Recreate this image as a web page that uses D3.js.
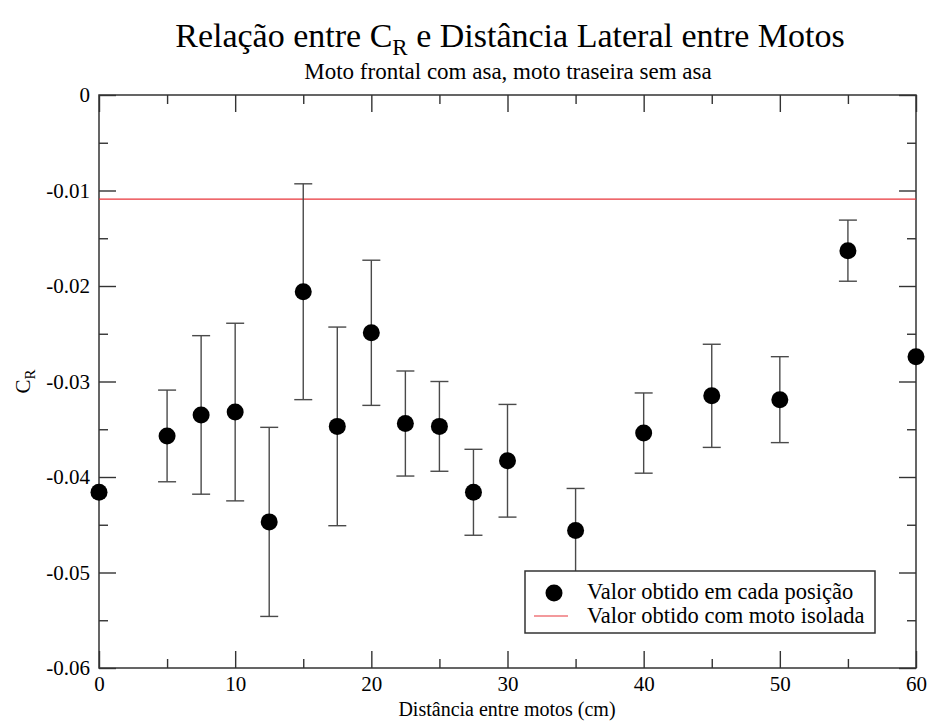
<!DOCTYPE html>
<html>
<head>
<meta charset="utf-8">
<script src="https://cdn.jsdelivr.net/npm/d3@7"></script>
<style>
  body { margin: 0; background: #fff; }
  svg { display: block; }
  text { font-family: "Liberation Serif", "Times New Roman", serif; fill: #000; }
</style>
</head>
<body>
<svg id="chart" width="930" height="724"></svg>
<script>
// Lateral distance between motorcycles (cm)
const distances = [0, 5, 7.5, 10, 12.5, 15, 17.5, 20, 22.5, 25, 27.5, 30, 35, 40, 45, 50, 55, 60];
// Measured C_R at each position
const crValues = [-0.0416, -0.0357, -0.0335, -0.0332, -0.0447, -0.0206, -0.0347, -0.0249, -0.0344,
                  -0.0347, -0.0416, -0.0383, -0.0456, -0.0354, -0.0315, -0.0319, -0.0163, -0.0274];
// Half-width of each error bar
const crErrors = [0, 0.0048, 0.0083, 0.0093, 0.0099, 0.0113, 0.0104, 0.0076, 0.0055,
                  0.0047, 0.0045, 0.0059, 0.0044, 0.0042, 0.0054, 0.0045, 0.0032, 0];
// C_R of the isolated motorcycle
const isolatedCr = -0.0109;

const xMajorTicks = [0, 10, 20, 30, 40, 50, 60];
const xTickLabels = ["0", "10", "20", "30", "40", "50", "60"];
const xMinorTicks = [5, 15, 25, 35, 45, 55];
const yMajorTicks = [0, -0.01, -0.02, -0.03, -0.04, -0.05, -0.06];
const yTickLabels = ["0", "-0.01", "-0.02", "-0.03", "-0.04", "-0.05", "-0.06"];
const yMinorTicks = [-0.005, -0.015, -0.025, -0.035, -0.045, -0.055];
const legendLabels = ["Valor obtido em cada posição", "Valor obtido com moto isolada"];

const svg = d3.select("#chart");
const plotLeft = 99, plotRight = 916, plotTop = 95, plotBottom = 668;
const axisColor = "#333";
const barColor = "#4a4a4a";
const redColor = "#e8343a";

const x = d3.scaleLinear().domain([0, 60]).range([plotLeft, plotRight]);
const y = d3.scaleLinear().domain([-0.06, 0]).range([plotBottom, plotTop]);

const MAJOR = 17, MINOR = 9;

function styleAxis(g) {
  g.select(".domain").remove();
  g.selectAll(".tick line").attr("stroke", axisColor).attr("stroke-width", 1.4);
  g.selectAll("text").style("font-size", "21px").attr("fill", "#000");
}

// Bottom axis: labelled majors + minors, ticks pointing inward
svg.append("g").attr("transform", `translate(0,${plotBottom})`)
  .call(d3.axisBottom(x).tickValues(xMajorTicks).tickSize(-MAJOR).tickPadding(8)
        .tickFormat((d, i) => xTickLabels[i]))
  .call(styleAxis);
svg.append("g").attr("transform", `translate(0,${plotBottom})`)
  .call(d3.axisBottom(x).tickValues(xMinorTicks).tickSize(-MINOR).tickFormat(""))
  .call(styleAxis);
// Top axis (ticks only)
svg.append("g").attr("transform", `translate(0,${plotTop})`)
  .call(d3.axisTop(x).tickValues(xMajorTicks).tickSize(-MAJOR).tickFormat(""))
  .call(styleAxis);
svg.append("g").attr("transform", `translate(0,${plotTop})`)
  .call(d3.axisTop(x).tickValues(xMinorTicks).tickSize(-MINOR).tickFormat(""))
  .call(styleAxis);
// Left axis with labels
svg.append("g").attr("transform", `translate(${plotLeft},0)`)
  .call(d3.axisLeft(y).tickValues(yMajorTicks).tickSize(-MAJOR).tickPadding(9)
        .tickFormat((d, i) => yTickLabels[i]))
  .call(styleAxis);
svg.append("g").attr("transform", `translate(${plotLeft},0)`)
  .call(d3.axisLeft(y).tickValues(yMinorTicks).tickSize(-MINOR).tickFormat(""))
  .call(styleAxis);
// Right axis (ticks only)
svg.append("g").attr("transform", `translate(${plotRight},0)`)
  .call(d3.axisRight(y).tickValues(yMajorTicks).tickSize(-MAJOR).tickFormat(""))
  .call(styleAxis);
svg.append("g").attr("transform", `translate(${plotRight},0)`)
  .call(d3.axisRight(y).tickValues(yMinorTicks).tickSize(-MINOR).tickFormat(""))
  .call(styleAxis);

// Frame
svg.append("rect")
  .attr("x", plotLeft).attr("y", plotTop)
  .attr("width", plotRight - plotLeft).attr("height", plotBottom - plotTop)
  .attr("fill", "none").attr("stroke", axisColor).attr("stroke-width", 1.5);

// Reference line: isolated motorcycle
svg.append("line")
  .attr("x1", x(0)).attr("x2", x(60))
  .attr("y1", y(isolatedCr)).attr("y2", y(isolatedCr))
  .attr("stroke", redColor).attr("stroke-width", 1.2);

// Error bars
const points = distances.map((d, i) => ({ d, v: crValues[i], e: crErrors[i] }));
const bars = svg.append("g").selectAll("g")
  .data(points.filter(p => p.e > 0)).join("g")
  .attr("stroke", barColor).attr("stroke-width", 1.4);
const CAP = 9;
bars.append("line")
  .attr("x1", p => x(p.d)).attr("x2", p => x(p.d))
  .attr("y1", p => y(p.v + p.e)).attr("y2", p => y(p.v - p.e));
bars.append("line")
  .attr("x1", p => x(p.d) - CAP).attr("x2", p => x(p.d) + CAP)
  .attr("y1", p => y(p.v + p.e)).attr("y2", p => y(p.v + p.e));
bars.append("line")
  .attr("x1", p => x(p.d) - CAP).attr("x2", p => x(p.d) + CAP)
  .attr("y1", p => y(p.v - p.e)).attr("y2", p => y(p.v - p.e));

// Points
svg.append("g").selectAll("circle")
  .data(points).join("circle")
  .attr("cx", p => x(p.d)).attr("cy", p => y(p.v))
  .attr("r", 8.5).attr("fill", "#000");

// Legend
const lg = svg.append("g").attr("transform", "translate(525,571)");
lg.append("rect").attr("width", 350).attr("height", 62)
  .attr("fill", "#fff").attr("stroke", axisColor).attr("stroke-width", 1.5);
lg.append("circle").attr("cx", 29).attr("cy", 22).attr("r", 8.5).attr("fill", "#000");
lg.append("line").attr("x1", 9).attr("x2", 43).attr("y1", 45).attr("y2", 45)
  .attr("stroke", redColor).attr("stroke-width", 1.2);
lg.selectAll("text.lab").data(legendLabels).join("text")
  .attr("class", "lab")
  .attr("x", 62).attr("y", (d, i) => 28 + i * 24)
  .style("font-size", "22.5px")
  .text(d => d);

// Title with subscript
const title = svg.append("text")
  .attr("x", 510).attr("y", 47)
  .attr("text-anchor", "middle")
  .style("font-size", "34px");
title.append("tspan").text("Relação entre C");
title.append("tspan").attr("dy", 8).style("font-size", "23px").text("R");
title.append("tspan").attr("dy", -8).text(" e Distância Lateral entre Motos");

// Subtitle
svg.append("text")
  .attr("x", 508).attr("y", 79)
  .attr("text-anchor", "middle")
  .style("font-size", "23px")
  .text("Moto frontal com asa, moto traseira sem asa");

// X axis title
svg.append("text")
  .attr("x", 507).attr("y", 716)
  .attr("text-anchor", "middle")
  .style("font-size", "20px")
  .text("Distância entre motos (cm)");

// Y axis title with subscript
const yt = svg.append("text")
  .attr("transform", `translate(30,${(plotTop + plotBottom) / 2}) rotate(-90)`)
  .attr("text-anchor", "middle")
  .style("font-size", "21px");
yt.append("tspan").text("C");
yt.append("tspan").attr("dy", 5).style("font-size", "15px").text("R");
</script>
</body>
</html>
